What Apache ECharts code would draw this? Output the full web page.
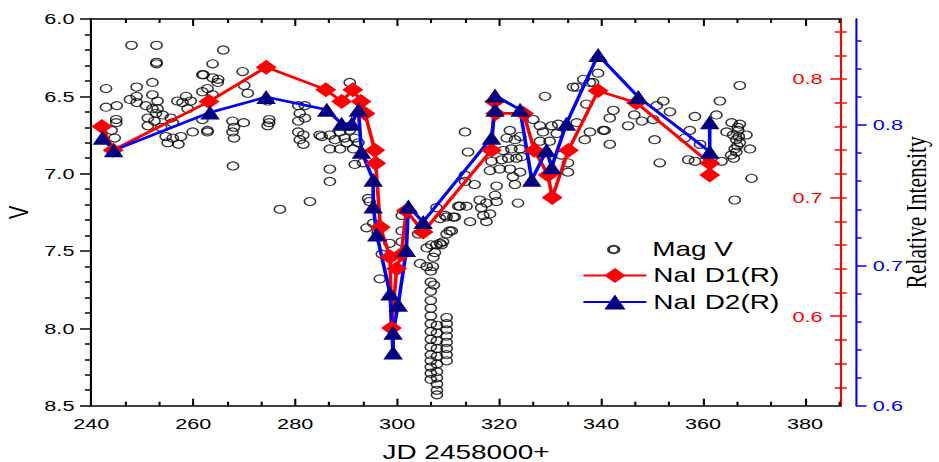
<!DOCTYPE html>
<html>
<head>
<meta charset="utf-8">
<script src="https://cdn.jsdelivr.net/npm/echarts@6/dist/echarts.min.js"></script>
<style>
  html, body { margin: 0; padding: 0; background: #fff; overflow: hidden; }
  /* the original figure is stretched horizontally, so draw narrow and stretch */
  #chart { width: 671px; height: 462px; transform: scaleX(1.3994); transform-origin: 0 0; }
</style>
</head>
<body>
<div id="chart"></div>
<script>
// V magnitude, [JD - 2458000, V]
const magV = [
  [242.9,6.45],[242.9,6.57],[245.0,6.56],[244.9,6.65],[244.9,6.67],[244.0,6.72],[244.6,6.77],
  [247.9,6.17],[248.9,6.44],[248.9,6.50],[247.6,6.52],[248.9,6.54],[252.0,6.41],[252.8,6.17],[252.8,6.28],[252.8,6.29],
  [250.7,6.56],[252.0,6.58],[253.0,6.53],[253.0,6.58],[252.0,6.49],[251.1,6.64],[252.7,6.61],[254.0,6.62],[251.1,6.69],[252.4,6.66],[253.7,6.70],
  [255.6,6.64],[256.0,6.67],[254.6,6.76],[255.0,6.80],[257.1,6.81],[256.0,6.77],[257.6,6.76],[259.9,6.73],
  [256.9,6.53],[258.6,6.50],[257.9,6.54],[259.5,6.53],[258.9,6.58],
  [261.8,6.36],[263.8,6.38],[264.8,6.41],[261.8,6.47],[262.8,6.45],[263.8,6.49],[261.8,6.65],[262.8,6.72],[262.8,6.73],
  [265.9,6.20],[263.8,6.29],[264.9,6.39],[262.0,6.36],
  [269.7,6.34],[270.0,6.43],[270.7,6.48],[267.7,6.66],[268.0,6.70],[267.7,6.73],[268.0,6.77],[269.9,6.67],
  [274.9,6.65],[274.9,6.67],[274.6,6.69],[274.6,6.53],[267.8,6.95],
  [277.0,7.23],[282.9,7.18],[280.6,6.56],[281.9,6.56],[280.9,6.61],[281.9,6.64],[280.6,6.66],[280.6,6.73],[281.6,6.75],[280.9,6.78],[281.6,6.81],
  [284.8,6.75],[285.2,6.76],[286.8,6.75],[286.8,6.84],[288.8,6.84],[289.7,6.77],[290.1,6.80],[291.4,6.84],[292.4,6.80],[290.7,6.72],[291.7,6.77],[288.8,6.73],[287.8,6.78],
  [286.8,6.97],[286.8,7.05],[290.7,6.41],[291.7,6.94],[293.3,6.93],[294.3,7.16],[294.6,7.18],[294.0,7.35],[295.3,7.32],
  [296.2,7.38],[297.0,7.52],[296.6,7.68],[298.5,7.45],
  [300.9,7.27],[300.9,7.37],[300.9,7.44],[304.1,7.39],
  [305.8,7.48],[304.5,7.58],[305.8,7.60],[306.7,7.46],[307.1,7.54],[308.4,7.45],[307.4,7.51],[308.7,7.46],[307.7,7.46],[309.0,7.44],
  [306.6,7.63],[306.6,7.70],[306.6,7.76],[306.6,7.82],[306.6,7.87],[306.6,7.92],[306.6,7.97],[306.6,8.02],
  [306.6,8.07],[306.6,8.12],[306.6,8.17],[306.6,8.21],[306.6,8.25],[306.6,8.29],[306.6,8.33],
  [307.8,7.98],[307.8,8.03],[307.8,8.08],[307.8,8.13],[307.8,8.18],[307.8,8.23],[307.8,8.28],[307.8,8.32],[307.8,8.36],[307.8,8.40],[307.8,8.43],
  [309.7,7.93],[309.7,7.97],[309.7,8.01],[309.7,8.05],[309.7,8.09],[309.7,8.13],[309.7,8.17],[309.7,8.21],
  [307.2,7.72],[307.0,7.60],
  [309.4,7.27],[311.3,7.28],[312.3,7.21],[314.3,7.31],[307.7,7.22],[308.4,7.29],[309.7,7.28],[311.0,7.28],[310.7,7.37],[310.3,7.37],
  [313.3,6.73],[313.9,6.86],[313.3,7.01],[315.2,7.07],[313.3,7.05],[319.5,7.08],[319.2,7.14],[319.5,7.18],[317.5,7.19],[316.2,7.17],
  [316.5,7.22],[318.2,7.26],[316.9,7.27],[312.0,7.21],[313.6,7.21],[317.5,7.31],[323.7,7.19],[309.7,7.39],
  [322.1,6.72],[321.5,6.77],[323.1,6.78],[324.1,6.76],[320.8,6.85],[322.4,6.84],[324.1,6.84],[321.8,6.90],[323.4,6.90],[320.5,6.91],
  [318.5,6.92],[320.1,6.97],[318.2,6.98],[322.1,6.97],[324.1,6.99],[322.7,7.02],[323.1,7.07],[324.4,6.89],
  [326.7,6.65],[328.0,6.69],[330.3,6.69],[331.6,6.68],[328.6,6.73],[331.3,6.74],[329.9,6.79],[328.0,6.79],[329.0,6.50],[332.2,6.88],[333.5,6.93],[333.5,6.99],
  [334.5,6.44],[336.5,6.39],[339.4,6.35],[338.4,6.41],[337.1,6.55],[342.4,6.59],[341.7,6.64],[340.4,6.72],[341.7,6.81],[337.8,6.73],[336.8,6.78],[335.2,6.67],[335.2,6.44],[337.8,6.41],
  [367.2,6.43],[363.3,6.53],[352.2,6.53],[350.9,6.56],[353.5,6.60],[350.2,6.65],[358.4,6.63],[362.6,6.62],[340.7,6.72],[345.3,6.69],
  [350.5,6.78],[351.5,6.93],[357.4,6.72],[356.4,6.77],[359.4,6.81],[357.1,6.91],[358.4,6.92],[363.6,6.92],[365.6,6.67],[367.2,6.68],
  [364.6,6.73],[365.9,6.75],[368.5,6.75],[366.5,6.78],[367.2,6.80],[366.2,6.84],[366.5,6.86],[369.2,6.84],[369.5,7.03],[366.2,7.17],
  [366.8,6.70],[366.9,6.72],[367.0,6.76],[366.7,6.82],[365.5,6.88],[366.0,6.90],[348.0,6.66],[346.5,6.62]
];

// NaI D1 relative intensity (red axis)
const naD1 = [
  [242.1,0.760],[244.3,0.740],[263.1,0.781],[274.3,0.810],[286.0,0.791],[289.1,0.781],[291.3,0.791],[292.9,0.781],
  [293.7,0.771],[295.6,0.740],[295.8,0.729],[296.7,0.675],[298.6,0.650],[298.9,0.590],[299.9,0.640],[300.8,0.652],
  [301.8,0.689],[305.1,0.671],[318.5,0.740],[319.1,0.781],[319.3,0.771],[324.8,0.771],[326.9,0.740],[329.6,0.719],
  [330.4,0.700],[333.6,0.740],[339.4,0.790],[346.9,0.780],[361.3,0.729],[361.3,0.719]
];

// NaI D2 relative intensity (blue axis)
const naD2 = [
  [242.2,0.791],[244.4,0.782],[263.3,0.809],[274.3,0.820],[286.2,0.811],[289.1,0.801],[291.1,0.801],[292.4,0.811],
  [293.0,0.781],[295.3,0.761],[295.3,0.742],[296.0,0.722],[298.6,0.680],[299.2,0.638],[299.2,0.652],[300.2,0.672],
  [301.8,0.711],[302.2,0.742],[305.1,0.731],[318.5,0.791],[319.2,0.811],[319.2,0.821],[324.1,0.811],[326.4,0.761],
  [329.3,0.782],[330.3,0.770],[333.2,0.801],[339.4,0.850],[347.3,0.820],[361.3,0.781],[361.3,0.802]
];

// ticks
const xMajor = [240, 260, 280, 300, 320, 340, 360, 380];
const xMinor = [];
for (let k = 1; k <= 22; k++) { if (k % 3) xMinor.push(240 + k * 20 / 3); }
const redMajor = [0.6, 0.7, 0.8];
const redMinor = [0.54, 0.56, 0.58, 0.62, 0.64, 0.66, 0.68, 0.72, 0.74, 0.76, 0.78, 0.82, 0.84];
const blueMajor = [0.6, 0.7, 0.8];
const blueMinor = [0.62, 0.64, 0.66, 0.68, 0.72, 0.74, 0.76, 0.78, 0.82, 0.84, 0.86];

const RED = '#ff0000', BLUE = '#0000ff', NAVY = '#000080';
const blueOffset = 10.9;

var myChart = echarts.init(document.getElementById('chart'), null, {renderer: 'svg'});

const tickStyle = (c) => ({color: c, width: 1.5});
const fmt1 = v => (+v).toFixed(1);

myChart.setOption({
  animation: false,
  backgroundColor: '#fff',
  textStyle: {fontFamily: 'Liberation Sans, Arial, sans-serif'},
  grid: {left: 65.2, right: 70.2, top: 19, bottom: 56.3, outerBoundsMode: 'none', containLabel: false},
  legend: [
    {
      data: ['Mag V'],
      left: 433.8, top: 239.5, padding: 0,
      itemWidth: 45, itemHeight: 7.5,
      textStyle: {fontSize: 20, color: '#000'}
    },
    {
      data: ['NaI D1(R)', 'NaI D2(R)'],
      orient: 'vertical',
      left: 415.9, top: 265.5, padding: 0,
      itemWidth: 45, itemHeight: 19, itemGap: 6.5,
      textStyle: {fontSize: 20, color: '#000'}
    }
  ],
  xAxis: [
    {
      type: 'value', position: 'bottom', min: 240, max: 387,
      axisLine: {lineStyle: tickStyle('#000')},
      axisTick: {inside: true, length: 7, customValues: xMajor, lineStyle: tickStyle('#000')},
      axisLabel: {customValues: xMajor, color: '#000', fontSize: 15.5, margin: 10},
      splitLine: {show: false},
      name: 'JD 2458000+', nameLocation: 'middle', nameGap: 36,
      nameTextStyle: {fontSize: 20, color: '#000'}
    },
    {
      type: 'value', position: 'bottom', min: 240, max: 387,
      axisLine: {show: false},
      axisTick: {inside: true, length: 4, customValues: xMinor, lineStyle: tickStyle('#000')},
      axisLabel: {show: false}, splitLine: {show: false}
    },
    {
      type: 'value', position: 'top', min: 240, max: 387,
      axisLine: {lineStyle: tickStyle('#000')},
      axisTick: {inside: true, length: 7, customValues: xMajor, lineStyle: tickStyle('#000')},
      axisLabel: {show: false}, splitLine: {show: false}
    },
    {
      type: 'value', position: 'top', min: 240, max: 387,
      axisLine: {show: false},
      axisTick: {inside: true, length: 4, customValues: xMinor, lineStyle: tickStyle('#000')},
      axisLabel: {show: false}, splitLine: {show: false}
    }
  ],
  yAxis: [
    {
      type: 'value', position: 'left', inverse: true, min: 6, max: 8.5, interval: 0.5,
      axisLine: {show: true, lineStyle: tickStyle('#000')},
      axisTick: {length: 8, lineStyle: tickStyle('#000')},
      minorTick: {show: true, splitNumber: 5, length: 4.5, lineStyle: tickStyle('#000')},
      axisLabel: {formatter: fmt1, color: '#000', fontSize: 15.5, margin: 12},
      splitLine: {show: false}, minorSplitLine: {show: false},
      name: 'V', nameLocation: 'middle', nameGap: 42, nameMoveOverlap: false,
      nameTextStyle: {fontSize: 20, color: '#000'}
    },
    {
      type: 'value', position: 'right', offset: 0, min: 0.5245, max: 0.8506,
      axisLine: {show: true, lineStyle: tickStyle(RED)},
      axisTick: {inside: true, length: 7.6, customValues: redMajor, lineStyle: tickStyle(RED)},
      axisLabel: {inside: true, customValues: redMajor, formatter: fmt1, color: RED, fontSize: 15.5, margin: 13},
      splitLine: {show: false}
    },
    {
      type: 'value', position: 'right', offset: 0, min: 0.5245, max: 0.8506,
      axisLine: {show: false},
      axisTick: {inside: true, length: 4.3, customValues: redMinor, lineStyle: tickStyle(RED)},
      axisLabel: {show: false}, splitLine: {show: false}
    },
    {
      type: 'value', position: 'right', offset: 0, min: 0.5245, max: 0.8506,
      axisLine: {show: false},
      axisTick: {length: 4.3, customValues: redMajor.concat(redMinor), lineStyle: tickStyle(RED)},
      axisLabel: {show: false}, splitLine: {show: false}
    },
    {
      type: 'value', position: 'right', offset: blueOffset, min: 0.6, max: 0.8756,
      axisLine: {show: true, lineStyle: tickStyle(BLUE)},
      axisTick: {length: 7.6, customValues: blueMajor, lineStyle: tickStyle(BLUE)},
      axisLabel: {customValues: blueMajor, formatter: fmt1, color: BLUE, fontSize: 15.5, margin: 12},
      splitLine: {show: false},
      name: 'Relative Intensity', nameLocation: 'middle', nameGap: 32, nameMoveOverlap: false,
      nameTextStyle: {fontSize: 21.5, color: '#000', fontFamily: 'Liberation Serif, Times New Roman, serif'}
    },
    {
      type: 'value', position: 'right', offset: blueOffset, min: 0.6, max: 0.8756,
      axisLine: {show: false},
      axisTick: {length: 4, customValues: blueMinor, lineStyle: tickStyle(BLUE)},
      axisLabel: {show: false}, splitLine: {show: false}
    }
  ],
  series: [
    {
      name: 'Mag V', type: 'scatter', xAxisIndex: 0, yAxisIndex: 0,
      symbol: 'circle', symbolSize: 8,
      itemStyle: {color: 'rgba(255,255,255,0)', borderColor: '#000', borderWidth: 1.1},
      data: magV
    },
    {
      name: 'NaI D1(R)', type: 'line', xAxisIndex: 0, yAxisIndex: 1,
      symbol: 'diamond', symbolSize: 15,
      itemStyle: {color: RED},
      lineStyle: {color: RED, width: 2.6},
      data: naD1
    },
    {
      name: 'NaI D2(R)', type: 'line', xAxisIndex: 0, yAxisIndex: 4,
      symbol: 'triangle', symbolSize: 14,
      itemStyle: {color: NAVY},
      lineStyle: {color: BLUE, width: 2.6},
      data: naD2
    }
  ]
});
</script>
</body>
</html>
